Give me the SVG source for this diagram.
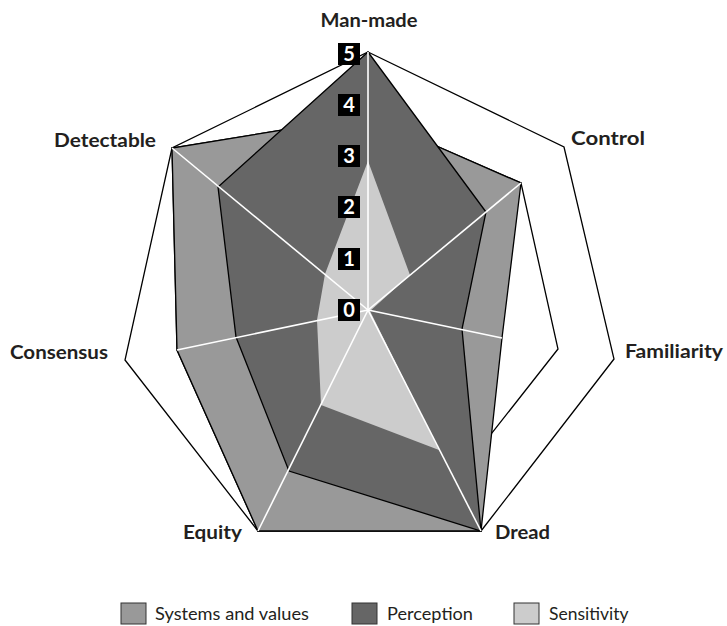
<svg xmlns="http://www.w3.org/2000/svg" width="727" height="626" viewBox="0 0 727 626">
  <style>
    .frame { fill: #ffffff; stroke: #000000; stroke-width: 1.3; stroke-linejoin: miter; }
    .systems { fill: #999999; stroke: #000000; stroke-width: 1.3; stroke-linejoin: miter; }
    .perception { fill: #666666; stroke: #000000; stroke-width: 1.3; stroke-linejoin: miter; }
    .sensitivity { fill: #cccccc; stroke: none; }
    .axis { stroke: #ffffff; stroke-width: 1.6; fill: none; }
    .tick rect { fill: #000000; }
    .tick text { font-family: Lato, "Open Sans", "Liberation Sans", sans-serif; font-weight: 700; font-size: 20px; fill: #ffffff; text-anchor: middle; }
    .label { font-family: Lato, "Open Sans", "Liberation Sans", sans-serif; font-weight: 700; font-size: 18px; fill: #231f20; }
    .key rect { stroke: #333333; stroke-width: 1; }
    .key text { font-family: Lato, "Open Sans", "Liberation Sans", sans-serif; font-size: 17.5px; fill: #231f20; }
  </style>

  <!-- outer scale ring (value 5 on every axis) -->
  <g id="frame">
    <polygon class="frame" points="368,52 564,147 614,359 481,531 258,531 125,360 172,148"/>
    <polygon class="frame" points="368,116 521,183 558,349 455,480 258,531 177,350 172,148"/>
  </g>

  <!-- data series -->
  <g id="series-systems">
    <polygon class="systems" points="368,116 521,183 502,338 481,531 258,531 177,350 172,148"/>
  </g>
  <g id="series-perception">
    <polygon class="perception" points="368,52 486,212 462,329 481,531 289,471 236,337 218,187"/>
  </g>
  <g id="series-sensitivity">
    <polygon class="sensitivity" points="368,161 410,275 370,311 439,450 321,405 317,320 325,274"/>
  </g>

  <!-- spokes from the centre -->
  <g id="axes">
    <line class="axis" x1="368" y1="310" x2="368" y2="52"/>
    <line class="axis" x1="368" y1="310" x2="521" y2="183"/>
    <line class="axis" x1="368" y1="310" x2="502" y2="338"/>
    <line class="axis" x1="368" y1="310" x2="481" y2="531"/>
    <line class="axis" x1="368" y1="310" x2="258" y2="531"/>
    <line class="axis" x1="368" y1="310" x2="177" y2="350"/>
    <line class="axis" x1="368" y1="310" x2="172" y2="148"/>
  </g>

  <!-- scale markers 0..5 -->
  <g id="scale" class="tick">
    <rect x="338" y="299" width="22" height="22"/><text x="349" y="317">0</text>
    <rect x="338" y="248" width="22" height="22"/><text x="349" y="266">1</text>
    <rect x="338" y="196" width="22" height="22"/><text x="349" y="214">2</text>
    <rect x="338" y="145" width="22" height="22"/><text x="349" y="163">3</text>
    <rect x="338" y="94" width="22" height="22"/><text x="349" y="112">4</text>
    <rect x="338" y="43" width="22" height="22"/><text x="349" y="61">5</text>
  </g>

  <!-- axis names -->
  <g id="labels">
    <text class="label" x="369" y="27" text-anchor="middle" textLength="97" lengthAdjust="spacingAndGlyphs">Man-made</text>
    <text class="label" x="571" y="145" textLength="74" lengthAdjust="spacingAndGlyphs">Control</text>
    <text class="label" x="625" y="358" textLength="98" lengthAdjust="spacingAndGlyphs">Familiarity</text>
    <text class="label" x="495" y="539" textLength="55" lengthAdjust="spacingAndGlyphs">Dread</text>
    <text class="label" x="183" y="539" textLength="59" lengthAdjust="spacingAndGlyphs">Equity</text>
    <text class="label" x="10" y="359" textLength="98" lengthAdjust="spacingAndGlyphs">Consensus</text>
    <text class="label" x="54" y="147" textLength="102" lengthAdjust="spacingAndGlyphs">Detectable</text>
  </g>

  <!-- legend -->
  <g id="legend" class="key">
    <rect x="121" y="603" width="25" height="21" fill="#999999"/>
    <text x="155" y="620" textLength="154" lengthAdjust="spacingAndGlyphs">Systems and values</text>
    <rect x="352" y="603" width="25" height="21" fill="#666666"/>
    <text x="387" y="620" textLength="86" lengthAdjust="spacingAndGlyphs">Perception</text>
    <rect x="514" y="603" width="25" height="21" fill="#cccccc"/>
    <text x="549" y="620">Sensitivity</text>
  </g>
</svg>
